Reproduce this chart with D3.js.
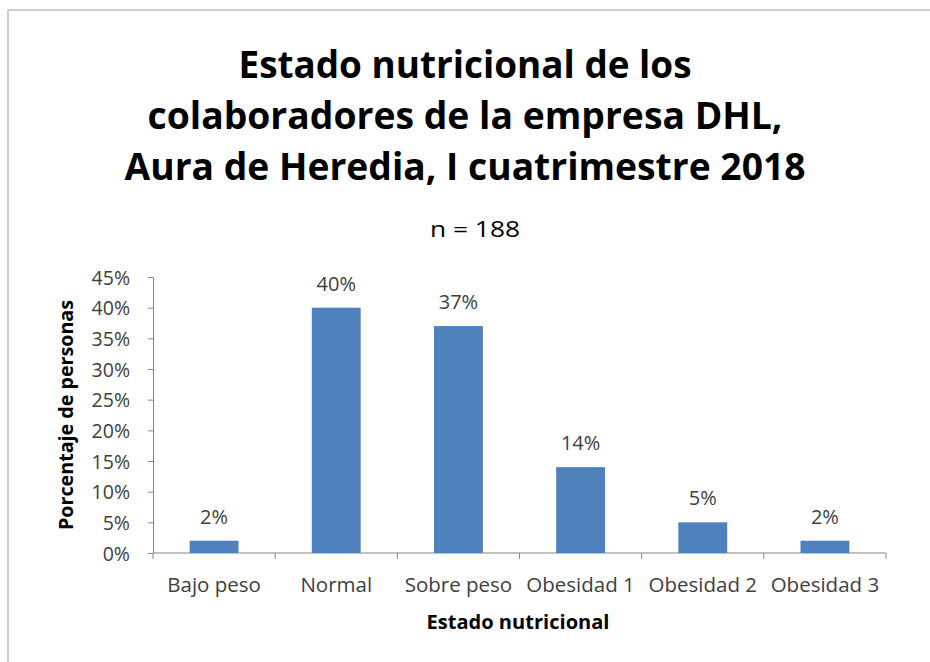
<!DOCTYPE html>
<html>
<head>
<meta charset="utf-8">
<script src="https://cdn.jsdelivr.net/npm/d3@7"></script>
<style>
  html, body { margin: 0; padding: 0; background: #fff; }
  svg { display: block; }
  text { font-family: "Open Sans", "DejaVu Sans", sans-serif; }
</style>
</head>
<body>
<svg id="chart" width="930" height="662"></svg>
<script>
const titleLines = ["Estado nutricional de los", "colaboradores de la empresa DHL,", "Aura de Heredia, I cuatrimestre 2018"];
const subtitle = "n = 188";
const categories = ["Bajo peso", "Normal", "Sobre peso", "Obesidad 1", "Obesidad 2", "Obesidad 3"];
const values = [0.02, 0.40, 0.37, 0.14, 0.05, 0.02];
const yTicks = [0, 0.05, 0.10, 0.15, 0.20, 0.25, 0.30, 0.35, 0.40, 0.45];
const xTitle = "Estado nutricional";
const yTitle = "Porcentaje de personas";

(function() {
const svg = d3.select("#chart");

// frame
svg.append("path")
  .attr("d", "M8,662 V10 H930")
  .attr("fill", "none").attr("stroke", "#bfbfbf").attr("stroke-width", 1.5);

function fit(sel, w) {
  sel.each(function() {
    const L = this.getComputedTextLength();
    if (L > 0) d3.select(this).attr("textLength", w).attr("lengthAdjust", "spacingAndGlyphs");
  });
}

// title
const titleWidths = [453, 635, 681];
titleLines.forEach((t, i) => {
  svg.append("text")
    .attr("x", 465).attr("y", 78 + i * 51)
    .attr("text-anchor", "middle")
    .attr("font-size", 37).attr("font-weight", "bold").attr("fill", "#000")
    .text(t)
    .call(fit, titleWidths[i]);
});

svg.append("text")
  .attr("x", 475).attr("y", 237)
  .attr("text-anchor", "middle")
  .attr("font-size", 21).attr("fill", "#000")
  .text(subtitle)
  .call(fit, 90);

const pLeft = 153, pRight = 886, pTop = 277, pBottom = 553;

const x = d3.scaleBand().domain(categories).range([pLeft, pRight]).paddingInner(0.6).paddingOuter(0.3);
const y = d3.scaleLinear().domain([0, 0.45]).range([pBottom, pTop]);

const axisColor = "#868686";
const textColor = "#404040";

// y axis
const yAxis = svg.append("g").attr("transform", `translate(${pLeft},0)`)
  .call(d3.axisLeft(y).tickValues(yTicks).tickFormat(d3.format(".0%")).tickSize(5).tickSizeOuter(0));
yAxis.select(".domain").attr("stroke", axisColor);
yAxis.selectAll(".tick line").attr("stroke", axisColor);
yAxis.selectAll(".tick text").attr("font-size", 19.5).attr("fill", textColor)
  .attr("font-family", '"Open Sans", sans-serif').attr("x", -23).attr("dy", "0.36em");

// x axis line and ticks at category boundaries
const boundaries = d3.range(categories.length + 1).map(i => pLeft + i * (pRight - pLeft) / categories.length);
svg.append("line").attr("x1", pLeft).attr("x2", pRight).attr("y1", pBottom).attr("y2", pBottom)
  .attr("stroke", axisColor);
svg.selectAll(".xtick").data(boundaries).join("line")
  .attr("x1", d => d).attr("x2", d => d).attr("y1", pBottom).attr("y2", pBottom + 6)
  .attr("stroke", axisColor);

// bars
svg.selectAll(".bar").data(values).join("rect")
  .attr("x", (d, i) => x(categories[i]))
  .attr("width", x.bandwidth())
  .attr("y", d => y(d))
  .attr("height", d => y(0) - y(d))
  .attr("fill", "#4f81bd");

// value labels
svg.selectAll(".vlabel").data(values).join("text")
  .attr("x", (d, i) => x(categories[i]) + x.bandwidth() / 2)
  .attr("y", d => y(d) - 17)
  .attr("text-anchor", "middle")
  .attr("font-size", 20).attr("fill", textColor)
  .text(d => d3.format(".0%")(d));

// category labels
svg.selectAll(".clabel").data(categories).join("text")
  .attr("x", d => x(d) + x.bandwidth() / 2)
  .attr("y", 592)
  .attr("text-anchor", "middle")
  .attr("font-size", 20.5).attr("fill", textColor)
  .text(d => d);

// axis titles
svg.append("text")
  .attr("x", 518).attr("y", 629)
  .attr("text-anchor", "middle")
  .attr("font-size", 20).attr("font-weight", "bold").attr("fill", "#000")
  .text(xTitle)
  .call(fit, 183);

svg.append("text")
  .attr("transform", "translate(73,415) rotate(-90)")
  .attr("text-anchor", "middle")
  .attr("font-size", 19.5).attr("font-weight", "bold").attr("fill", "#000")
  .text(yTitle)
  .call(fit, 230);
})();
</script>
</body>
</html>
